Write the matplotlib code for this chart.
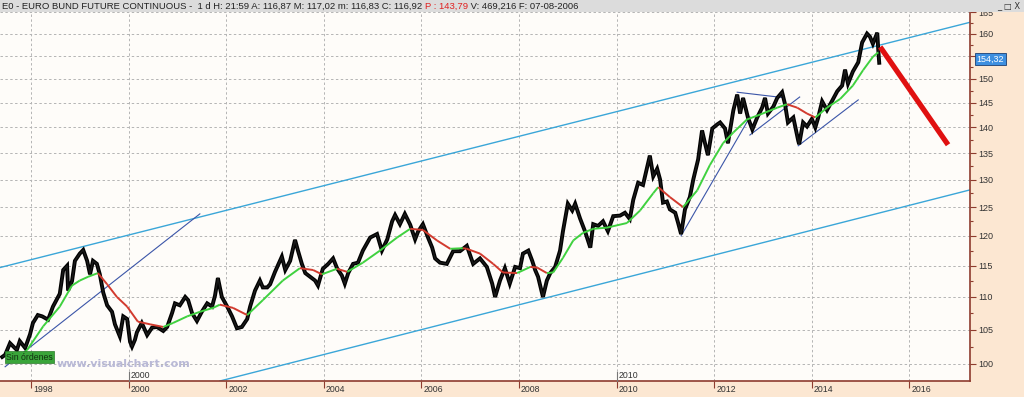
import matplotlib
matplotlib.use("Agg")
import matplotlib.pyplot as plt
import matplotlib.transforms as mtransforms
from matplotlib.collections import LineCollection
from matplotlib.ticker import FixedLocator, NullFormatter
from matplotlib.patches import Rectangle

# ---------------- data (decimal years, price) ----------------
dates = [1997.41, 1997.47, 1997.57, 1997.71, 1997.77, 1997.88, 1997.98, 1998.04, 1998.14, 1998.23,
         1998.35, 1998.45, 1998.59, 1998.66, 1998.74, 1998.76, 1998.84, 1998.90, 1999.00, 1999.07,
         1999.15, 1999.21, 1999.27, 1999.35, 1999.41, 1999.48, 1999.56, 1999.66, 1999.72, 1999.82,
         1999.89, 1999.97, 2000.03, 2000.07, 2000.13, 2000.17, 2000.27, 2000.38, 2000.48, 2000.58,
         2000.71, 2000.79, 2000.89, 2000.95, 2001.05, 2001.16, 2001.22, 2001.30, 2001.40, 2001.50,
         2001.61, 2001.71, 2001.77, 2001.83, 2001.91, 2002.02, 2002.12, 2002.22, 2002.32, 2002.43,
         2002.49, 2002.59, 2002.69, 2002.75, 2002.84, 2002.90, 2003.00, 2003.14, 2003.21, 2003.31,
         2003.41, 2003.47, 2003.55, 2003.62, 2003.72, 2003.82, 2003.88, 2003.98, 2004.09, 2004.19,
         2004.27, 2004.37, 2004.43, 2004.50, 2004.60, 2004.70, 2004.80, 2004.95, 2005.09, 2005.19,
         2005.30, 2005.40, 2005.46, 2005.56, 2005.66, 2005.77, 2005.87, 2005.93, 2006.03, 2006.14,
         2006.22, 2006.28, 2006.38, 2006.52, 2006.65, 2006.79, 2006.93, 2007.06, 2007.20, 2007.34,
         2007.45, 2007.51, 2007.61, 2007.71, 2007.81, 2007.92, 2008.02, 2008.08, 2008.19, 2008.27,
         2008.33, 2008.39, 2008.47, 2008.49, 2008.57, 2008.64, 2008.74, 2008.84, 2008.90, 2009.00,
         2009.09, 2009.15, 2009.25, 2009.35, 2009.46, 2009.52, 2009.62, 2009.72, 2009.82, 2009.93,
         2010.07, 2010.17, 2010.27, 2010.34, 2010.44, 2010.54, 2010.68, 2010.75, 2010.83, 2010.89,
         2010.95, 2011.03, 2011.09, 2011.20, 2011.26, 2011.32, 2011.40, 2011.50, 2011.57, 2011.67,
         2011.75, 2011.81, 2011.87, 2011.96, 2012.06, 2012.12, 2012.22, 2012.28, 2012.39, 2012.47,
         2012.53, 2012.59, 2012.69, 2012.78, 2012.88, 2012.98, 2013.04, 2013.10, 2013.21, 2013.29,
         2013.39, 2013.45, 2013.51, 2013.62, 2013.72, 2013.74, 2013.82, 2013.90, 2014.00, 2014.07,
         2014.13, 2014.21, 2014.31, 2014.42, 2014.52, 2014.62, 2014.68, 2014.74, 2014.84, 2014.95,
         2015.03, 2015.13, 2015.19, 2015.25, 2015.34, 2015.36, 2015.38]
prices = [101.0, 101.3, 103.0, 102.0, 103.3, 102.3, 104.3, 106.0, 107.2, 107.0,
          106.5, 108.5, 110.5, 114.3, 115.0, 111.0, 112.5, 115.8, 117.0, 117.6,
          115.8, 113.6, 115.8, 115.3, 113.6, 110.7, 108.7, 107.7, 105.8, 104.0,
          107.0, 106.6, 103.2, 102.5, 103.5, 104.6, 106.0, 104.2, 105.3, 105.4,
          104.8, 105.4, 107.5, 109.0, 108.7, 110.0, 109.5, 107.5, 106.3, 107.7,
          109.0, 108.5, 110.2, 113.0, 110.0, 108.5, 107.0, 105.2, 105.4, 106.6,
          108.5, 111.0, 112.6, 111.5, 111.5, 112.0, 114.0, 116.5, 114.3, 115.8,
          119.3, 117.5, 115.3, 113.8, 113.2, 112.6, 111.8, 114.5, 115.3, 116.2,
          114.6, 113.4, 112.1, 113.8, 115.3, 115.5, 117.5, 119.7, 120.3, 117.5,
          119.4, 122.5, 123.6, 122.0, 123.8, 121.9, 119.4, 120.7, 122.0, 119.6,
          118.0, 116.2, 115.5, 115.3, 117.4, 117.4, 118.3, 115.3, 116.2, 114.8,
          112.1, 110.0, 112.6, 114.6, 112.1, 114.8, 114.6, 117.0, 117.5, 115.8,
          114.3, 113.2, 110.6, 110.0, 112.6, 113.8, 114.8, 117.5, 120.8, 125.6,
          124.4, 125.6, 123.0, 120.8, 118.0, 122.0, 121.7, 122.5, 120.8, 123.4,
          123.5, 124.0, 122.9, 126.3, 129.4, 129.0, 134.5, 130.6, 132.0, 130.0,
          125.8, 126.0, 124.6, 124.0, 122.2, 120.3, 124.6, 126.8, 130.0, 133.8,
          139.4, 136.9, 134.6, 139.8, 140.6, 141.0, 139.8, 136.9, 143.4, 146.7,
          142.8, 146.0, 142.0, 139.6, 142.0, 144.0, 146.0, 142.8, 144.2, 146.0,
          147.2, 144.7, 141.0, 142.0, 137.4, 136.7, 141.0, 140.2, 141.7, 140.0,
          142.0, 145.3, 143.5, 145.5, 147.4, 148.6, 152.0, 149.0, 151.6, 153.6,
          158.0, 160.0, 159.3, 157.7, 160.2, 156.4, 153.5]

ma_dates = [1997.77, 1997.92, 1998.25, 1998.59, 1998.84, 1999.00, 1999.17, 1999.37, 1999.56, 1999.76,
            1999.97, 2000.19, 2000.44, 2000.71, 2000.91, 2001.20, 2001.46, 2001.73, 2001.87, 2002.14,
            2002.43, 2002.75, 2003.16, 2003.51, 2003.78, 2003.96, 2004.27, 2004.48, 2004.80, 2005.15,
            2005.50, 2005.77, 2006.03, 2006.32, 2006.59, 2006.85, 2006.93, 2007.20, 2007.47, 2007.67,
            2007.96, 2008.23, 2008.37, 2008.57, 2008.70, 2008.90, 2009.11, 2009.31, 2009.52, 2009.80,
            2010.21, 2010.48, 2010.75, 2010.85, 2011.09, 2011.36, 2011.65, 2011.91, 2012.18, 2012.39,
            2012.67, 2012.94, 2013.29, 2013.49, 2013.70, 2013.90, 2014.07, 2014.31, 2014.58, 2014.84,
            2015.05, 2015.25, 2015.36]
ma_values = [101.0, 102.0, 105.5, 108.5, 111.8, 112.6, 113.2, 113.8, 112.0, 110.0,
             108.5, 106.2, 105.8, 105.4, 106.0, 107.0, 107.7, 108.3, 108.8, 108.3,
             107.2, 109.5, 112.6, 114.6, 114.3, 113.6, 114.5, 114.0, 115.5, 117.5,
             119.7, 121.2, 121.0, 119.2, 117.8, 117.9, 117.8, 117.0, 115.3, 113.9,
             113.8, 114.8, 114.7, 113.8, 113.9, 116.3, 119.2, 120.5, 121.2, 121.4,
             122.2, 124.4, 127.5, 128.6, 126.8, 125.0, 128.0, 132.7, 136.9, 139.0,
             141.6, 142.6, 144.0, 144.7, 144.0, 142.8, 142.0, 144.0, 145.8, 148.6,
             151.9, 154.8, 155.8]

# trend lines: (start date, end date), (start price, end price)
upper_channel = ([1997.365, 2017.24], [114.7, 162.6])
lower_channel = ([2001.87, 2017.24], [97.6, 128.1])
support_1998 = ([1997.47, 2001.46], [99.6, 123.8])
support_2011 = ([2011.32, 2012.73], [120.0, 142.1])
triangle_top = ([2012.47, 2013.39], [147.2, 146.1])
triangle_bottom = ([2012.73, 2013.75], [138.5, 146.2])
support_2013 = ([2013.72, 2014.95], [136.4, 145.6])
forecast = ([2015.40, 2016.79], [157.0, 136.6])

year_ticks = [1998, 2000, 2002, 2004, 2006, 2008, 2010, 2012, 2014, 2016]
price_ticks = [100, 105, 110, 115, 120, 125, 130, 135, 140, 145, 150, 155, 160, 165]
price_labels = ["100", "105", "110", "115", "120", "125", "130", "135", "140", "145", "150", "", "160", "165"]
last_price = "154,32"

title_a = "E0 - EURO BUND FUTURE CONTINUOUS -  1 d H: 21:59 A: 116,87 M: 117,02 m: 116,83 C: 116,92 "
title_b = "P : 143,79"
title_c = " V: 469,216 F: 07-08-2006"

# ---------------- styling ----------------
W, H = 1024, 397
PEACH = "#fce7d2"
PLOT_BG = "#fefcf9"
AXCOL = "#8e3b2e"
FONT = "Liberation Sans"

fig = plt.figure(figsize=(W / 100, H / 100), dpi=100, facecolor=PEACH)
ax = fig.add_axes([0, 16 / H, 970 / W, 369 / H])
ax.set_facecolor(PLOT_BG)
ax.set_yscale("log")
ax.set_xlim(1997.365, 2017.24)
ax.set_ylim(97.6, 165.0)

# grid
for y in price_ticks:
    ax.axhline(y, color="#b4b4b4", lw=0.7, ls=(0, (2.5, 2.5)), zorder=0)
for x in year_ticks:
    ax.axvline(x, color="#b4b4b4", lw=0.7, ls=(0, (2.5, 2.5)), zorder=0)

# trend lines
light_blue = "#3aa6d8"
dark_blue = "#3b55a8"
for xs, ys in [upper_channel, lower_channel]:
    ax.plot(xs, ys, color=light_blue, lw=1.0, zorder=2)
for xs, ys in [support_1998, support_2011, triangle_top, triangle_bottom, support_2013]:
    ax.plot(xs, ys, color=dark_blue, lw=0.8, zorder=2)

# price
ax.plot(dates, prices, color="black", lw=2.8, solid_joinstyle="miter", zorder=4)
ax.plot(dates, prices, color="#1a1a1a", lw=1.0, zorder=4)

# moving average, red where falling, green where rising
segs, cols = [], []
for i in range(len(ma_dates) - 1):
    segs.append([(ma_dates[i], ma_values[i]), (ma_dates[i + 1], ma_values[i + 1])])
    cols.append("#d23a2e" if ma_values[i + 1] < ma_values[i] else "#3fd13f")
ax.add_collection(LineCollection(segs, colors=cols, linewidths=1.4, zorder=5))

# forecast arrow line
ax.plot(forecast[0], forecast[1], color="#e01010", lw=3.8, solid_capstyle="butt", zorder=6)

# axes / spines
for s in ["left", "top"]:
    ax.spines[s].set_visible(False)
for s in ["right", "bottom"]:
    ax.spines[s].set_color(AXCOL)
    ax.spines[s].set_linewidth(1.2)

ax.yaxis.tick_right()
ax.yaxis.set_major_locator(FixedLocator(price_ticks))
ax.set_yticklabels(price_labels, fontsize=6.5, family=FONT, color="#333333")
ax.yaxis.set_minor_locator(FixedLocator([v + 2.5 for v in price_ticks]))
ax.yaxis.set_minor_formatter(NullFormatter())
ax.tick_params(axis="y", which="major", direction="out", length=4, width=0.8, color=AXCOL, pad=2)
ax.tick_params(axis="y", which="minor", direction="out", length=2.5, width=0.8, color=AXCOL)

ax.set_xticks(year_ticks)
ax.set_xticklabels([])
ax.tick_params(axis="x", which="major", direction="out", length=5, width=0.8, color=AXCOL)
ax.xaxis.set_minor_locator(FixedLocator([]))

trans = mtransforms.blended_transform_factory(ax.transData, ax.transAxes)
for yr in year_ticks:
    ax.text(yr, 0, str(yr), transform=trans + mtransforms.ScaledTranslation(2 / 100, -9 / 100, fig.dpi_scale_trans),
            fontsize=6.3, family=FONT, color="#333333", ha="left", va="center", clip_on=False)
for yr in [2000, 2010]:
    ax.text(yr, 0, str(yr), transform=trans + mtransforms.ScaledTranslation(2 / 100, 5 / 100, fig.dpi_scale_trans),
            fontsize=6.3, family=FONT, color="#333333", ha="left", va="center", clip_on=False)
    ax.plot([yr, yr], [0, 0.025], transform=trans, color="#777777", lw=0.8, clip_on=False, zorder=3)

# watermark and status box
ax.text(0.058, 0.046, "www.visualchart.com", transform=ax.transAxes, fontsize=8, fontweight="bold",
        family="DejaVu Sans", color="#b9b9d6", ha="left", va="center", zorder=7)
ax.text(0.0065, 0.065, "Sin órdenes", transform=ax.transAxes, fontsize=6.3, family=FONT,
        color="#113311", ha="left", va="center", zorder=8,
        bbox=dict(boxstyle="square,pad=0.15", fc="#3aa53a", ec="#2a7a2a", lw=0.5))

# last price label on the axis
ax.text(1.007, 154.32, last_price, transform=mtransforms.blended_transform_factory(ax.transAxes, ax.transData),
        fontsize=6.5, family=FONT, color="white", ha="left", va="center", clip_on=False, zorder=9,
        bbox=dict(boxstyle="square,pad=0.2", fc="#3d8fe0", ec="#1c3f73", lw=0.6))

# title bar
fig.patches.append(Rectangle((0, (H - 12) / H), 1, 12 / H, transform=fig.transFigure,
                             facecolor="#dcdcdc", edgecolor="none", zorder=0))
ty = (H - 6) / H
TS = 6.8
t1 = fig.text(2 / W, ty, title_a, fontsize=TS, family=FONT, color="#222222", ha="left", va="center")
fig.canvas.draw()
bb = t1.get_window_extent()
t2 = fig.text(bb.x1 / W, ty, title_b, fontsize=TS, family=FONT, color="#e02020", ha="left", va="center")
fig.canvas.draw()
bb2 = t2.get_window_extent()
fig.text(bb2.x1 / W, ty, title_c, fontsize=TS, family=FONT, color="#222222", ha="left", va="center")
fig.text(1020 / W, ty, "_ □ X", fontsize=6, family="DejaVu Sans", color="#333333", ha="right", va="center")

fig.savefig("out.png", dpi=100, facecolor=PEACH)
